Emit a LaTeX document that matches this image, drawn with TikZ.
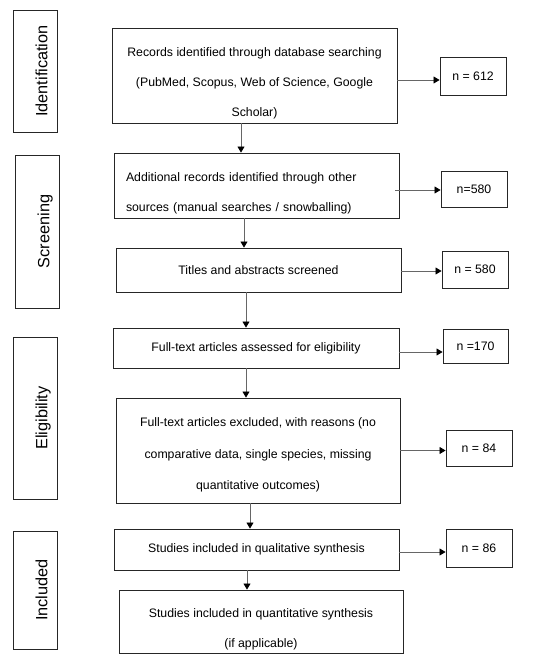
\documentclass[tikz,border=0pt]{standalone}
\usepackage{fontspec}
\setmainfont{Liberation Sans}
\usetikzlibrary{arrows.meta}

% extra room above the first line of a box
\newcommand{\topgap}[1]{\rule{0pt}{#1}}

\tikzset{
  stepbox/.style={draw=black!85, line width=0.9pt, inner sep=0pt, align=center,
    font=\fontsize{12.3}{30}\selectfont},
  countbox/.style={draw=black!85, line width=0.9pt, inner sep=0pt,
    font=\fontsize{12.3}{15}\selectfont},
  stagebox/.style={draw=black!85, line width=0.9pt, inner sep=0pt, rotate=90,
    minimum height=44pt, text height=24.5pt, text depth=0pt,
    font=\fontsize{16.3}{18}\selectfont},
  flow/.style={draw=black!60, line width=0.8pt, -{Triangle[length=6pt,width=7pt,color=black]}}
}

\begin{document}
\begin{tikzpicture}[x=1pt, y=-1pt]
\useasboundingbox (0,0) rectangle (550,665);
% stages on the left
\node[stagebox, minimum width=122pt] (sid)  at (35,71)    {Identification};
\node[stagebox, minimum width=153pt] (sscr) at (37,231.5) {Screening};
\node[stagebox, minimum width=162pt] (selg) at (35,418)   {Eligibility};
\node[stagebox, minimum width=118pt] (sinc) at (35,590)   {Included};
% main flow
\node[stepbox, minimum width=285pt, minimum height=95pt] (rec) at (254.5,75.5)
  {\topgap{24pt}Records identified through database searching\\(PubMed, Scopus, Web of Science, Google\\Scholar)};
\node[stepbox, align=left, text width=261pt, inner xsep=12pt, minimum height=65pt] (add) at (256.5,185.5)
  {\topgap{24pt}Additional records identified through other\\sources (manual searches / snowballing)};
\node[stepbox, minimum width=285pt, minimum height=44pt] (tas) at (258.5,270)
  {Titles and abstracts screened};
\node[stepbox, minimum width=286pt, minimum height=40pt] (fta) at (256,348)
  {Full-text articles assessed for eligibility};
\node[stepbox, minimum width=284pt, minimum height=105pt,
  font=\fontsize{12.3}{31.5}\selectfont] (fte) at (258,450.5)
  {\topgap{18pt}Full-text articles excluded, with reasons (no\\comparative data, single species, missing\\quantitative outcomes)};
\node[stepbox, minimum width=285pt, minimum height=41pt] (qual) at (256.5,549.5)
  {Studies included in qualitative synthesis};
\node[stepbox, minimum width=284pt, minimum height=63pt] (quant) at (261,621.5)
  {\topgap{25pt}Studies included in quantitative synthesis\\(if applicable)};
% counts
\node[countbox, minimum width=66pt, minimum height=38pt] (nrec)  at (473,76)    {n = 612};
\node[countbox, minimum width=66pt, minimum height=36pt] (nadd)  at (474,189)   {n=580};
\node[countbox, minimum width=66pt, minimum height=37pt] (ntas)  at (475,269.5) {n = 580};
\node[countbox, minimum width=65pt, minimum height=34pt] (nfta)  at (475.5,346) {n =170};
\node[countbox, minimum width=66pt, minimum height=36pt] (nfte)  at (479,448)   {n = 84};
\node[countbox, minimum width=66pt, minimum height=38pt] (nqual) at (479,548)   {n = 86};
% vertical connectors
\draw[flow] ([xshift=-13.5pt]rec.south) -- ([xshift=-13.5pt]rec.south |- add.north);
\draw[flow] ([xshift=-12.5pt]add.south) -- ([xshift=-12.5pt]add.south |- tas.north);
\draw[flow] ([xshift=-12.5pt]tas.south) -- ([xshift=-12.5pt]tas.south |- fta.north);
\draw[flow] ([xshift=-10pt]fta.south)   -- ([xshift=-10pt]fta.south |- fte.north);
\draw[flow] ([xshift=-8pt]fte.south)    -- ([xshift=-8pt]fte.south |- qual.north);
\draw[flow] ([xshift=-9.5pt]qual.south) -- ([xshift=-9.5pt]qual.south |- quant.north);
% counts connectors
\draw[flow] ([yshift=-4.5pt]rec.east)  -- ([yshift=-4.5pt]rec.east -| nrec.west);
\draw[flow] ([xshift=-4pt,yshift=-4.5pt]add.east) -- ([yshift=-4.5pt]add.east -| nadd.west);
\draw[flow] ([yshift=-1pt]tas.east)    -- ([yshift=-1pt]tas.east -| ntas.west);
\draw[flow] ([yshift=-4pt]fta.east)    -- ([yshift=-4pt]fta.east -| nfta.west);
\draw[flow] (fte.east) -- (fte.east -| nfte.west);
\draw[flow] ([yshift=-2.5pt]qual.east) -- ([yshift=-2.5pt]qual.east -| nqual.west);
\end{tikzpicture}
\end{document}
